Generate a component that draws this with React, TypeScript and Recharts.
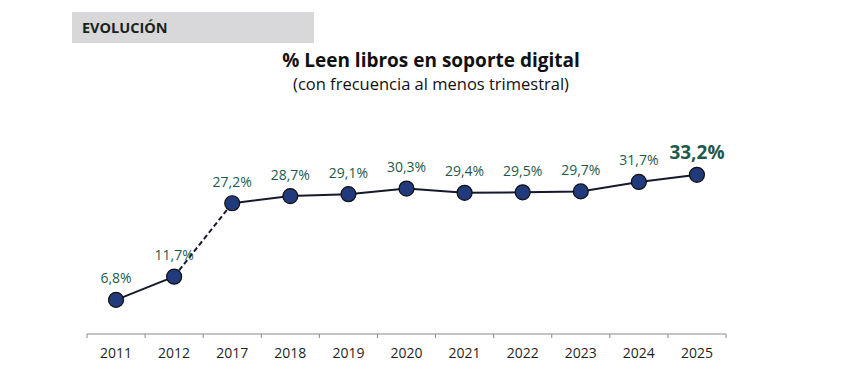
import { LineChart, Line, XAxis, YAxis, LabelList } from 'recharts';

const years = ['2011', '2012', '2017', '2018', '2019', '2020', '2021', '2022', '2023', '2024', '2025'];
const values = [6.8, 11.7, 27.2, 28.7, 29.1, 30.3, 29.4, 29.5, 29.7, 31.7, 33.2];
// the 2012 -> 2017 step is drawn dashed (gap between surveys)
const gapStart = 1;

const W = 862;
const H = 375;
const AXIS_H = 41;
const margin = { top: 144, right: 136, bottom: 0, left: 87 };
const BAND = (W - margin.left - margin.right) / years.length;
const TICK_MARGIN = 14;

const LINE = '#16182b';
const DOT = '#213a7c';
const LABEL = '#1e5a4c';
const FONT = '"Open Sans", "Noto Sans", sans-serif';

const rows = years.map((year, i) => ({
  year,
  value: values[i],
  before: i <= gapStart ? values[i] : null,
  gap: i === gapStart || i === gapStart + 1 ? values[i] : null,
  after: i >= gapStart + 1 ? values[i] : null,
}));

const fmt = (v: number) => v.toFixed(1).replace('.', ',') + '%';

function YearTick(props: any) {
  const { x, y, payload, index } = props;
  const axisY = y - TICK_MARGIN;
  const left = x - BAND / 2;
  const right = x + BAND / 2;
  return (
    <g>
      <line x1={left} x2={left} y1={axisY} y2={axisY + 4} stroke="#8a8a8a" />
      {index === years.length - 1 && (
        <line x1={right} x2={right} y1={axisY} y2={axisY + 4} stroke="#8a8a8a" />
      )}
      <text x={x} y={y} dy="0.71em" textAnchor="middle" fontSize={14} fill="#1f1f1f" fontFamily={FONT}>
        {payload.value}
      </text>
    </g>
  );
}

function PointLabel(props: any) {
  const { x, y, value, index } = props;
  const last = index === values.length - 1;
  return (
    <text
      x={x}
      y={y - (last ? 23 : 22)}
      textAnchor="middle"
      dominantBaseline="central"
      fontSize={last ? 19 : 14}
      fontWeight={last ? 700 : 400}
      fill={LABEL}
      fontFamily={FONT}
    >
      {fmt(value)}
    </text>
  );
}

export default function App() {
  return (
    <div style={{ position: 'absolute', left: 0, top: 0, width: W, height: H, background: '#fff', fontFamily: FONT }}>
      <div
        style={{
          position: 'absolute',
          left: 72,
          top: 12,
          width: 242,
          height: 31,
          background: '#d8d8da',
          display: 'flex',
          alignItems: 'center',
          paddingLeft: 10,
          boxSizing: 'border-box',
          fontWeight: 700,
          fontSize: 14.5,
          color: '#182418',
        }}
      >
        EVOLUCIÓN
      </div>
      <div
        style={{
          position: 'absolute',
          left: 0,
          width: W,
          top: 47,
          textAlign: 'center',
          fontWeight: 700,
          fontSize: 19,
          color: '#111',
          lineHeight: '26px',
        }}
      >
        % Leen libros en soporte digital
      </div>
      <div
        style={{
          position: 'absolute',
          left: 0,
          width: W,
          top: 72,
          textAlign: 'center',
          fontSize: 16.5,
          color: '#111',
          lineHeight: '24px',
        }}
      >
        (con frecuencia al menos trimestral)
      </div>
      <div style={{ position: 'absolute', left: 0, top: 0 }}>
        <LineChart width={W} height={H} data={rows} margin={margin}>
          <XAxis
            dataKey="year"
            axisLine={{ stroke: '#8a8a8a' }}
            tickLine={false}
            tickSize={0}
            tickMargin={TICK_MARGIN}
            tick={<YearTick />}
            interval={0}
            height={AXIS_H}
            padding={{ left: BAND / 2, right: BAND / 2 }}
          />
          <YAxis hide domain={[-0.4, 39.7]} />
          <Line dataKey="before" stroke={LINE} strokeWidth={2} dot={false} isAnimationActive={false} connectNulls={false} />
          <Line dataKey="gap" stroke={LINE} strokeWidth={2} strokeDasharray="5 3" dot={false} isAnimationActive={false} connectNulls={false} />
          <Line dataKey="after" stroke={LINE} strokeWidth={2} dot={false} isAnimationActive={false} connectNulls={false} />
          <Line
            dataKey="value"
            stroke="none"
            dot={{ r: 7.5, fill: DOT, stroke: '#111', strokeWidth: 1.2 }}
            isAnimationActive={false}
          >
            <LabelList dataKey="value" content={<PointLabel />} />
          </Line>
        </LineChart>
      </div>
    </div>
  );
}
